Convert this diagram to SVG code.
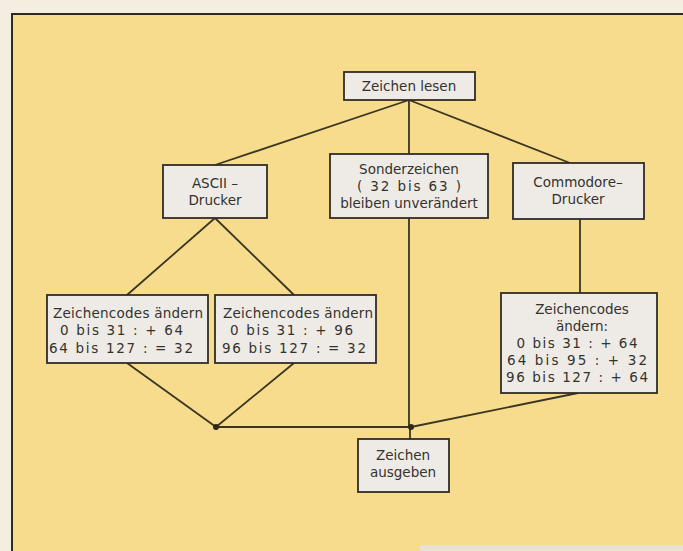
<svg xmlns="http://www.w3.org/2000/svg" width="683" height="551" viewBox="0 0 683 551">
<style>
.box{fill:#eeebe6;stroke:#312c26;stroke-width:1.8}
.t{font-family:"DejaVu Sans",sans-serif;font-size:13.5px;fill:#34322e;text-anchor:middle}
.ts{font-family:"DejaVu Sans",sans-serif;font-size:13.5px;fill:#34322e;text-anchor:start}
.c{fill:none;stroke:#3b3620;stroke-width:1.8}
</style>
<rect x="0" y="0" width="683" height="551" fill="#f4eee1"/>
<rect x="12" y="14" width="680" height="540" fill="#f7dc8e"/>
<path d="M12 551 V14 H683" fill="none" stroke="#2e2a20" stroke-width="2"/>
<rect x="420" y="545" width="263" height="6" fill="#e9e2d2"/>
<g id="connectors">
<path class="c" d="M409 100 L215 165 M409 100 L570 163 M409 100 V154 M409 218 V427 M410 427 V439"/>
<path class="c" d="M215 218 L127 295 M215 218 L294 295"/>
<path class="c" d="M127 363 L216 427 M294 363 L216 427 M578 393 L411 427"/>
<path class="c" d="M216 427 H411" stroke-width="2.4"/>
<path class="c" d="M580 219 V293"/>
<circle cx="216" cy="427" r="3" fill="#2e2a18"/>
<circle cx="411" cy="427" r="3" fill="#2e2a18"/>
</g>
<g id="n_lesen">
<rect class="box" x="344" y="72" width="131" height="28"/>
<text class="t" x="409" y="91">Zeichen lesen</text>
</g>
<g id="n_ascii">
<rect class="box" x="163" y="165" width="104" height="53"/>
<text class="t" x="215" y="188">ASCII –</text>
<text class="t" x="215" y="205">Drucker</text>
</g>
<g id="n_sonder">
<rect class="box" x="330" y="154" width="158" height="64"/>
<text class="t" x="409" y="174">Sonderzeichen</text>
<text class="t" x="409" y="191" textLength="104" lengthAdjust="spacing">( 32 bis 63 )</text>
<text class="t" x="409" y="208">bleiben unverändert</text>
</g>
<g id="n_commodore">
<rect class="box" x="513" y="163" width="131" height="56"/>
<text class="t" x="578" y="187">Commodore–</text>
<text class="t" x="578" y="204">Drucker</text>
</g>
<g id="n_ascii_a">
<rect class="box" x="47" y="295" width="161" height="68"/>
<text class="ts" x="53" y="318" textLength="150" lengthAdjust="spacing">Zeichencodes ändern</text>
<text class="ts" x="60" y="335" textLength="123" lengthAdjust="spacing">0 bis 31 : + 64</text>
<text class="ts" x="49" y="353" textLength="144" lengthAdjust="spacing">64 bis 127 : = 32</text>
</g>
<g id="n_ascii_b">
<rect class="box" x="215" y="295" width="161" height="68"/>
<text class="ts" x="223" y="318" textLength="150" lengthAdjust="spacing">Zeichencodes ändern</text>
<text class="ts" x="230" y="335" textLength="123" lengthAdjust="spacing">0 bis 31 : + 96</text>
<text class="ts" x="222" y="353" textLength="144" lengthAdjust="spacing">96 bis 127 : = 32</text>
</g>
<g id="n_comm_a">
<rect class="box" x="501" y="293" width="156" height="100"/>
<text class="t" x="582" y="314">Zeichencodes</text>
<text class="t" x="582" y="331">ändern:</text>
<text class="t" x="577" y="348" textLength="121" lengthAdjust="spacing">0 bis 31 : + 64</text>
<text class="t" x="577" y="365" textLength="140" lengthAdjust="spacing">64 bis 95 : + 32</text>
<text class="t" x="577" y="382" textLength="142" lengthAdjust="spacing">96 bis 127 : + 64</text>
</g>
<g id="n_ausgeben">
<rect class="box" x="358" y="439" width="91" height="53"/>
<text class="t" x="403" y="460">Zeichen</text>
<text class="t" x="403" y="477">ausgeben</text>
</g>
</svg>
